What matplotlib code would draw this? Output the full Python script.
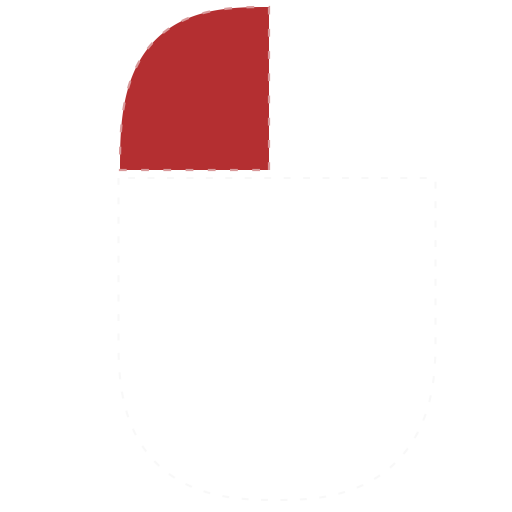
import matplotlib
matplotlib.use("Agg")
import matplotlib.pyplot as plt
from matplotlib.patches import Polygon
import numpy as np

# slice shares (percent) and colours
shares = [25, 75]
fills = ["#b42f31", "#ffffff"]
edges = ["#d9999a", "#f8f8f8"]


def squircle_arc(cx, cy, rx, ry, t0, t1, n, num=300):
    # points on a superellipse outline between angles t0..t1 (degrees)
    th = np.radians(np.linspace(t0, t1, num))
    c, s = np.cos(th), np.sin(th)
    x = cx + rx * np.sign(c) * np.abs(c) ** (2 / n)
    y = cy - ry * np.sign(s) * np.abs(s) ** (2 / n)
    return np.column_stack([x, y])


fig = plt.figure(figsize=(5.12, 5.12), dpi=100)
ax = fig.add_axes([0, 0, 1, 1])
ax.set_xlim(0, 512)
ax.set_ylim(512, 0)
ax.axis("off")

# white (remaining) slice: square top, rounded bottom
cx, cy, rx, ry = 277, 339, 158.5, 161
bottom = np.vstack([squircle_arc(cx, cy, rx, ry, 180, 270, 2.6),
                    squircle_arc(cx, cy, rx, ry, 270, 360, 2.5)])
pts = np.vstack([[[cx - rx, cy - ry]], bottom, [[cx + rx, cy - ry]]])
ax.add_patch(Polygon(pts, closed=True, facecolor=fills[1], edgecolor=edges[1],
                     linewidth=1.4, linestyle=(0, (3.5, 6.5))))

# red slice: share of the full turn, starting at 90 degrees
span = shares[0] / sum(shares) * 360
arc = squircle_arc(269, 170, 149, 163, 90, 90 + span, 2.8)
pts = np.vstack([[[269, 170]], arc])
ax.add_patch(Polygon(pts, closed=True, facecolor=fills[0], edgecolor=edges[0],
                     linewidth=1.6, linestyle=(0, (3.5, 6.5))))

fig.savefig("out.png", dpi=100, facecolor="white")
